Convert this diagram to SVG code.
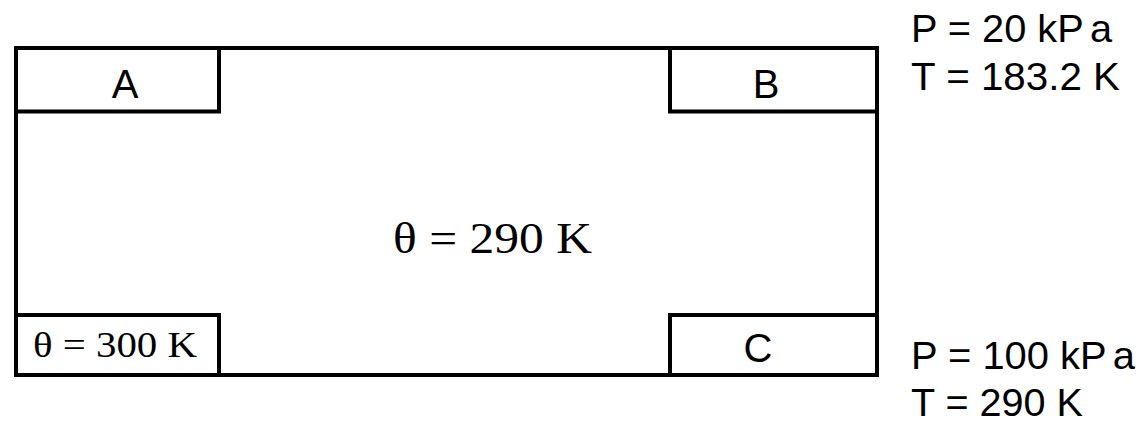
<svg xmlns="http://www.w3.org/2000/svg" width="1141" height="422" viewBox="0 0 1141 422">
<style>
.box{fill:none;stroke:#000;stroke-width:4}
.lbl{font-family:"Liberation Sans",Arial,sans-serif;font-size:40px;fill:#000;text-anchor:middle}
.ser{font-family:"Liberation Serif","Times New Roman",serif;fill:#000}
.side{font-family:"Liberation Sans",Arial,sans-serif;font-size:39px;fill:#000}
</style>
<rect width="1141" height="422" fill="#fff"/>
<g id="chamber">
<rect class="box" x="16" y="48" width="861" height="327"/>
<text class="ser" x="393" y="253" font-size="44" textLength="199" lengthAdjust="spacingAndGlyphs">θ = 290 K</text>
</g>
<g id="nodeA">
<rect class="box" x="16" y="48" width="203" height="63.5"/>
<text class="lbl" x="125" y="98">A</text>
</g>
<g id="nodeB">
<rect class="box" x="670" y="48" width="207" height="63.5"/>
<text class="lbl" x="766" y="98">B</text>
</g>
<g id="nodeHeat">
<rect class="box" x="16" y="315" width="203" height="60"/>
<text class="ser" x="33" y="357" font-size="36" textLength="164" lengthAdjust="spacingAndGlyphs">θ = 300 K</text>
</g>
<g id="nodeC">
<rect class="box" x="670" y="315" width="207" height="60"/>
<text class="lbl" x="758" y="362">C</text>
</g>
<g id="labelsB">
<text class="side" x="911" y="42" textLength="201" lengthAdjust="spacingAndGlyphs">P = 20 kP<tspan dx="6">a</tspan></text>
<text class="side" x="911" y="90" textLength="209" lengthAdjust="spacingAndGlyphs">T = 183.2 K</text>
</g>
<g id="labelsC">
<text class="side" x="911" y="369" textLength="224" lengthAdjust="spacingAndGlyphs">P = 100 kP<tspan dx="6">a</tspan></text>
<text class="side" x="911" y="416" textLength="172" lengthAdjust="spacingAndGlyphs">T = 290 K</text>
</g>
<g id="connectors"></g>
</svg>
